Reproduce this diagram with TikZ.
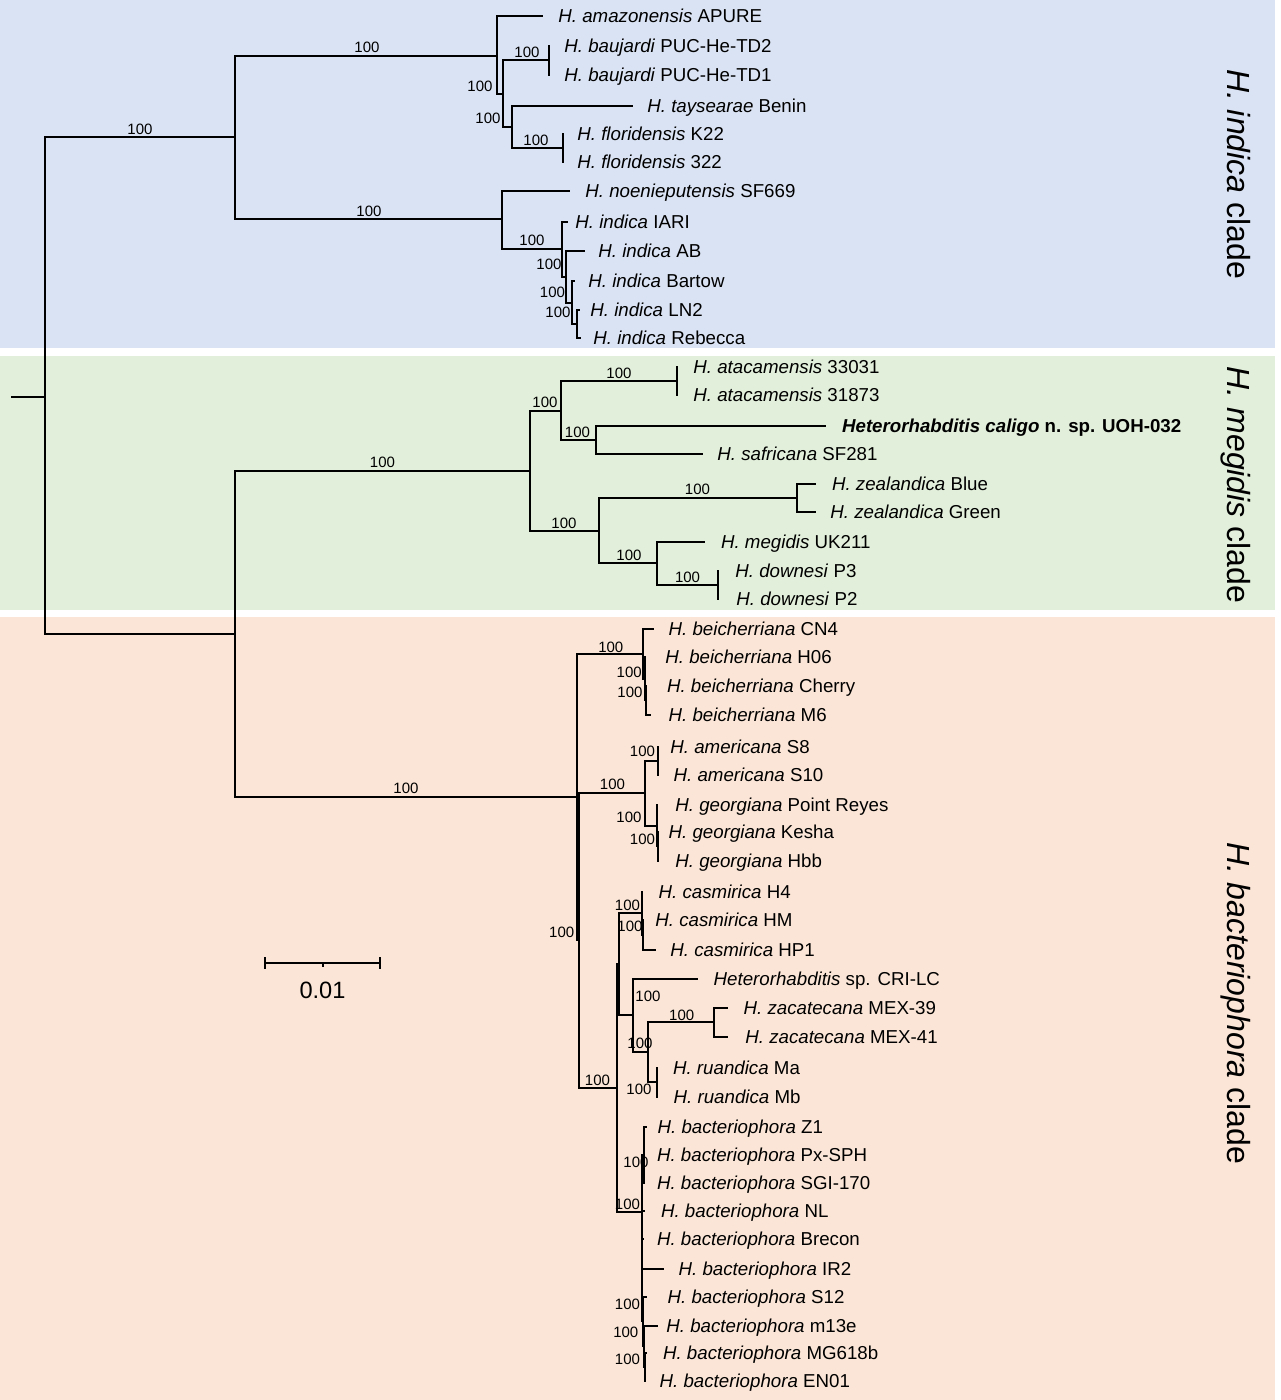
\documentclass[tikz,border=0pt]{standalone}
\usepackage{fontspec}
\setmainfont{Liberation Sans}
\definecolor{bgblue}{HTML}{DAE3F3}
\definecolor{bggreen}{HTML}{E2EFDA}
\definecolor{bgpeach}{HTML}{FBE5D6}
\begin{document}
\begin{tikzpicture}[x=0.5pt,y=-0.5pt,
  br/.style={line width=1pt,line cap=rect},
  leaf/.style={anchor=west,inner sep=0pt,text height=6.69pt,text depth=0pt,font=\fontsize{9.35}{11}\selectfont},
  bsv/.style={anchor=center,inner sep=0pt,text height=5.37pt,text depth=0pt,font=\fontsize{7.5}{9}\selectfont},
  clade/.style={anchor=base,rotate=-90,inner sep=0pt,font=\fontsize{16}{19}\selectfont}]
\useasboundingbox (0,0) rectangle (1280,1400);
% background bands
\fill[bgblue] (0,0) rectangle (1275,348);
\fill[bggreen] (0,356) rectangle (1275,610);
\fill[bgpeach] (0,617) rectangle (1275,1400);

% ---------- root ----------
\coordinate (R0) at (12,397);
\coordinate (R) at (45,397);
\coordinate (I) at (235,137);
\coordinate (MB) at (235,634);
\draw[br] (R0) -- (R);
\draw[br] (R) |- (I);
\draw[br] (R) |- (MB);

% ---------- indica clade ----------
\coordinate (I1) at (497,56);
\coordinate (I1a) at (503,94);
\coordinate (bau) at (549,60);
\coordinate (tf) at (512,127);
\coordinate (flo) at (563,148);
\coordinate (I2) at (502,219);
\coordinate (in1) at (562,249);
\coordinate (in2) at (566,277);
\coordinate (in3) at (572,303);
\coordinate (in4) at (577,324);
\coordinate (t1) at (542,16);
\coordinate (t2) at (549,46);
\coordinate (t3) at (549,75);
\coordinate (t4) at (632,106);
\coordinate (t5) at (563,134);
\coordinate (t6) at (563,162);
\coordinate (t7) at (569,191);
\coordinate (t8) at (567,222);
\coordinate (t9) at (584,251);
\coordinate (t10) at (574,281);
\coordinate (t11) at (579,310);
\coordinate (t12) at (580,338);
\foreach \p/\c in {I/I1,I/I2,I1/t1,I1/I1a,I1a/bau,I1a/tf,bau/t2,bau/t3,tf/t4,tf/flo,flo/t5,flo/t6,I2/t7,I2/in1,in1/t8,in1/in2,in2/t9,in2/in3,in3/t10,in3/in4,in4/t11,in4/t12}
  \draw[br] (\p) |- (\c);
\node[leaf] (l1) at (558,16) {\textit{H. amazonensis} APURE};
\node[leaf] (l2) at (564,46) {\textit{H. baujardi} PUC-He-TD2};
\node[leaf] (l3) at (564,75) {\textit{H. baujardi} PUC-He-TD1};
\node[leaf] (l4) at (647,106) {\textit{H. taysearae} Benin};
\node[leaf] (l5) at (577,134) {\textit{H. floridensis} K22};
\node[leaf] (l6) at (577,162) {\textit{H. floridensis} 322};
\node[leaf] (l7) at (585,191) {\textit{H. noenieputensis} SF669};
\node[leaf] (l8) at (575,222) {\textit{H. indica} IARI};
\node[leaf] (l9) at (598,251) {\textit{H. indica} AB};
\node[leaf] (l10) at (588,281) {\textit{H. indica} Bartow};
\node[leaf] (l11) at (590,310) {\textit{H. indica} LN2};
\node[leaf] (l12) at (593,338) {\textit{H. indica} Rebecca};

% ---------- megidis clade ----------
\coordinate (M) at (530,471);
\coordinate (ma) at (561,411);
\coordinate (ata) at (677,381);
\coordinate (cs) at (596,440);
\coordinate (mb) at (599,531);
\coordinate (zea) at (797,498);
\coordinate (md) at (657,563);
\coordinate (dow) at (718,585);
\coordinate (m1) at (677,367);
\coordinate (m2) at (677,395);
\coordinate (m3) at (825,426);
\coordinate (m4) at (702,454);
\coordinate (m5) at (815,484);
\coordinate (m6) at (815,512);
\coordinate (m7) at (704,542);
\coordinate (m8) at (718,571);
\coordinate (m9) at (718,599);
\foreach \p/\c in {MB/M,M/ma,M/mb,ma/ata,ma/cs,ata/m1,ata/m2,cs/m3,cs/m4,mb/zea,mb/md,zea/m5,zea/m6,md/m7,md/dow,dow/m8,dow/m9}
  \draw[br] (\p) |- (\c);
\node[leaf] (n1) at (693,367) {\textit{H. atacamensis} 33031};
\node[leaf] (n2) at (693,395) {\textit{H. atacamensis} 31873};
\node[leaf] (n3) at (841.7,426) {\bfseries\textit{Heterorhabditis caligo} n. sp. UOH-032};
\node[leaf] (n4) at (717,454) {\textit{H. safricana} SF281};
\node[leaf] (n5) at (831.7,484) {\textit{H. zealandica} Blue};
\node[leaf] (n6) at (830,512) {\textit{H. zealandica} Green};
\node[leaf] (n7) at (720.7,542) {\textit{H. megidis} UK211};
\node[leaf] (n8) at (735,571) {\textit{H. downesi} P3};
\node[leaf] (n9) at (736,599) {\textit{H. downesi} P2};

% ---------- bacteriophora clade ----------
\coordinate (B) at (577,797);
\coordinate (b1) at (643,654);
\coordinate (b2) at (645,679);
\coordinate (b3) at (646,700);
\coordinate (BB) at (579,940);
\coordinate (ag) at (645,793);
\coordinate (am) at (658,761);
\coordinate (ge) at (657,826);
\coordinate (g2) at (658,846);
\coordinate (C) at (617,1088);
\coordinate (D) at (619,964);
\coordinate (cas) at (642,913);
\coordinate (ca2) at (643,935);
\coordinate (E) at (633,1015);
\coordinate (F) at (648,1052);
\coordinate (zac) at (714,1022);
\coordinate (rua) at (657,1082);
\coordinate (bac) at (642,1212);
\coordinate (bz) at (644,1155);
\coordinate (bs) at (643,1321);
\coordinate (bs2) at (644,1346);
\coordinate (bs3) at (645,1367);
\coordinate (tCN4) at (653,629);
\coordinate (tH06) at (645,657);
\coordinate (tCherry) at (646,686);
\coordinate (tM6) at (650,715);
\coordinate (tS8) at (658,747);
\coordinate (tS10) at (658,775);
\coordinate (tPR) at (657,805);
\coordinate (tKesha) at (658,832);
\coordinate (tHbb) at (658,861);
\coordinate (tH4) at (642,892);
\coordinate (tHM) at (643,920);
\coordinate (tHP1) at (655,950);
\coordinate (tCRI) at (697,979);
\coordinate (tZ39) at (727,1008);
\coordinate (tZ41) at (727,1037);
\coordinate (tMa) at (657,1068);
\coordinate (tMb) at (657,1097);
\coordinate (tZ1) at (646,1127);
\coordinate (tPx) at (644,1155);
\coordinate (tSGI) at (644,1183);
\coordinate (tNL) at (644,1211);
\coordinate (tBrecon) at (643,1239);
\coordinate (tIR2) at (663,1269);
\coordinate (tS12) at (646,1297);
\coordinate (tm13e) at (657,1326);
\coordinate (tMG) at (646,1353);
\coordinate (tEN01) at (645,1381);
\foreach \p/\c in {MB/B,B/b1,B/BB,b1/tCN4,b1/b2,b2/tH06,b2/b3,b3/tCherry,b3/tM6,
  BB/ag,BB/C,ag/am,ag/ge,am/tS8,am/tS10,ge/tPR,ge/g2,g2/tKesha,g2/tHbb,
  C/D,C/bac,D/cas,D/E,cas/tH4,cas/ca2,ca2/tHM,ca2/tHP1,E/tCRI,E/F,F/zac,F/rua,zac/tZ39,zac/tZ41,rua/tMa,rua/tMb,
  bac/bz,bac/tNL,bac/tBrecon,bac/tIR2,bac/bs,bz/tZ1,bz/tPx,bz/tSGI,bs/tS12,bs/bs2,bs2/tm13e,bs2/bs3,bs3/tMG,bs3/tEN01}
  \draw[br] (\p) |- (\c);
\node[leaf] (k1) at (668.3,629) {\textit{H. beicherriana} CN4};
\node[leaf] (k2) at (665,657) {\textit{H. beicherriana} H06};
\node[leaf] (k3) at (666.7,686) {\textit{H. beicherriana} Cherry};
\node[leaf] (k4) at (668.3,715) {\textit{H. beicherriana} M6};
\node[leaf] (k5) at (670,747) {\textit{H. americana} S8};
\node[leaf] (k6) at (673.3,775) {\textit{H. americana} S10};
\node[leaf] (k7) at (675,805) {\textit{H. georgiana} Point Reyes};
\node[leaf] (k8) at (668.3,832) {\textit{H. georgiana} Kesha};
\node[leaf] (k9) at (675,861) {\textit{H. georgiana} Hbb};
\node[leaf] (k10) at (658.3,892) {\textit{H. casmirica} H4};
\node[leaf] (k11) at (655,920) {\textit{H. casmirica} HM};
\node[leaf] (k12) at (670,950) {\textit{H. casmirica} HP1};
\node[leaf] (k13) at (713.3,979) {\textit{Heterorhabditis} sp. CRI-LC};
\node[leaf] (k14) at (743.3,1008) {\textit{H. zacatecana} MEX-39};
\node[leaf] (k15) at (745,1037) {\textit{H. zacatecana} MEX-41};
\node[leaf] (k16) at (672.7,1068) {\textit{H. ruandica} Ma};
\node[leaf] (k17) at (673.3,1097) {\textit{H. ruandica} Mb};
\node[leaf] (k18) at (657.3,1127) {\textit{H. bacteriophora} Z1};
\node[leaf] (k19) at (656.7,1155) {\textit{H. bacteriophora} Px-SPH};
\node[leaf] (k20) at (656.7,1183) {\textit{H. bacteriophora} SGI-170};
\node[leaf] (k21) at (660.7,1211) {\textit{H. bacteriophora} NL};
\node[leaf] (k22) at (656.7,1239) {\textit{H. bacteriophora} Brecon};
\node[leaf] (k23) at (678.3,1269) {\textit{H. bacteriophora} IR2};
\node[leaf] (k24) at (667.3,1297) {\textit{H. bacteriophora} S12};
\node[leaf] (k25) at (666,1326) {\textit{H. bacteriophora} m13e};
\node[leaf] (k26) at (662.7,1353) {\textit{H. bacteriophora} MG618b};
\node[leaf] (k27) at (659.3,1381) {\textit{H. bacteriophora} EN01};

% ---------- bootstrap values ----------
\foreach \x/\y [count=\i] in {140/129,367/47,369/211,527/51.7,480/86,488/118,536/140,532/240,549/264,552.5/292,558/311.7,
  382.5/462.5,545/401.7,619/373,577.5/431.7,564/522.7,697.5/489,629/555,687.5/577.5,
  406/788,610.8/646.7,629.2/672.3,630/692.3,612.5/784,642.5/751,629/816.7,642.5/839,561.7/931.7,
  627.5/905,630/926,648/996,681.7/1015,640/1043,639/1089.3,597.5/1080,
  636/1161.7,627.5/1204.3,627.5/1304.3,625.8/1331.7,627.5/1359}
  \node[bsv] (bv\i) at (\x,\y) {100};

% ---------- clade labels ----------
\node[clade] (c1) at (1227,174) {\textit{H. indica} clade};
\node[clade] (c2) at (1227,485) {\textit{H. megidis} clade};
\node[clade] (c3) at (1227,1003) {\textit{H. bacteriophora} clade};

% ---------- scale bar ----------
\coordinate (sbL) at (265,963);
\coordinate (sbR) at (380,963);
\coordinate (sbM) at (323,963);
\draw[line width=0.8pt] (sbL) -- (sbR);
\draw[line width=0.8pt] ([yshift=3pt]sbL) -- ([yshift=-3pt]sbL);
\draw[line width=0.8pt] ([yshift=3pt]sbR) -- ([yshift=-3pt]sbR);
\draw[line width=1.3pt] (sbM) -- ([yshift=-1.8pt]sbM);
\node[anchor=center,inner sep=0pt,font=\fontsize{11.8}{14}\selectfont] (sbt) at (322.5,990.5) {0.01};
\end{tikzpicture}
\end{document}
